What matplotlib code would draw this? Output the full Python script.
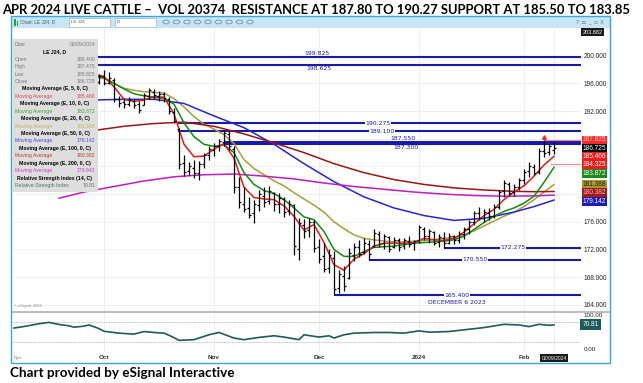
import matplotlib
matplotlib.use('Agg')
import matplotlib.pyplot as plt
import matplotlib.transforms as mtransforms
from matplotlib.collections import LineCollection
from matplotlib.patches import Rectangle, Circle
from matplotlib.lines import Line2D

plt.rcParams['font.family'] = ['Liberation Sans', 'DejaVu Sans']

W, H = 643, 383

# one index per trading day, 0 = Oct 2 2023, 90 = Feb 9 2024
bar_idx = list(range(-1, 91))
opens = [196.2, 197.0, 196.1, 196.5, 193.8, 193.3, 193.0, 193.5, 193.0, 192.9,
         194.2, 194.8, 194.2, 194.4, 193.8, 191.9, 189.4, 184.5, 183.3, 183.8,
         183.0, 184.4, 185.6, 186.4, 186.9, 187.6, 188.7, 186.5, 181.0, 178.6,
         178.0, 177.2, 178.4, 179.8, 179.0, 180.2, 178.6, 179.3, 177.5, 178.4,
         172.0, 175.6, 174.8, 176.0, 172.4, 171.0, 169.3, 170.8, 166.5, 168.2,
         167.9, 171.2, 172.4, 171.6, 172.8, 172.5, 174.2, 172.9, 173.8, 172.4,
         173.3, 172.5, 173.2, 172.9, 173.3, 175.0, 173.9, 174.5, 173.1, 173.6,
         173.0, 173.9, 173.4, 174.2, 174.9, 176.0, 177.2, 176.6, 177.3, 176.9,
         178.2, 180.4, 181.5, 180.3, 181.0, 182.0, 183.3, 183.9, 183.2, 186.2,
         186.1, 186.4]
highs = [197.4, 197.9, 197.6, 196.8, 194.2, 193.9, 194.1, 193.8, 193.4, 194.6,
         195.4, 195.2, 194.9, 194.7, 194.0, 192.5, 189.6, 185.6, 184.6, 185.0,
         184.8, 186.0, 186.9, 187.4, 188.0, 189.3, 189.1, 186.9, 182.5, 181.0,
         179.6, 179.1, 180.6, 181.0, 181.2, 180.3, 180.1, 179.6, 179.2, 178.6,
         176.6, 176.4, 176.5, 176.3, 173.5, 172.9, 172.0, 171.8, 169.0, 169.6,
         172.2, 173.0, 173.3, 173.6, 173.4, 174.9, 174.6, 174.3, 174.0, 173.8,
         173.6, 173.7, 173.9, 173.4, 175.6, 175.2, 175.0, 174.7, 174.2, 174.5,
         174.4, 174.1, 174.7, 175.3, 176.3, 177.6, 178.1, 177.8, 178.0, 178.5,
         180.6, 182.1, 181.8, 181.5, 182.4, 183.6, 184.6, 184.3, 186.7, 187.825,
         187.3, 187.475]
lows = [195.9, 195.7, 195.9, 193.3, 192.6, 192.4, 192.7, 192.5, 191.7, 192.9,
        193.8, 193.8, 193.5, 193.3, 191.6, 190.3, 183.6, 182.6, 182.8, 182.4,
        182.1, 183.8, 185.0, 185.5, 186.2, 187.0, 186.4, 180.2, 178.0, 177.4,
        176.5, 175.8, 177.6, 178.2, 178.6, 177.6, 177.3, 176.7, 177.0, 171.2,
        170.5, 173.6, 173.8, 171.6, 170.0, 168.8, 168.6, 165.4, 165.7, 166.0,
        167.8, 170.3, 170.9, 171.4, 170.55, 172.3, 172.4, 172.0, 171.6, 172.2,
        171.8, 172.0, 172.3, 171.9, 173.0, 173.4, 173.0, 172.6, 172.4, 172.275,
        172.8, 172.8, 173.0, 173.5, 174.2, 175.5, 176.2, 176.0, 176.3, 176.6,
        177.8, 179.6, 179.7, 179.8, 180.6, 181.5, 182.5, 182.8, 182.9, 185.4,
        185.6, 185.825]
closes = [197.0, 196.0, 196.8, 193.8, 193.2, 193.0, 193.6, 192.9, 192.2, 194.3,
          195.0, 194.3, 194.5, 193.9, 192.0, 190.6, 184.3, 183.2, 184.0, 183.0,
          184.4, 185.6, 186.5, 186.9, 187.7, 188.9, 186.9, 181.0, 178.8, 177.9,
          177.0, 178.5, 180.0, 178.9, 180.4, 178.6, 179.5, 177.4, 178.6, 172.5,
          175.8, 174.6, 176.0, 172.2, 170.6, 169.2, 171.2, 166.3, 168.4, 166.7,
          171.5, 172.4, 171.3, 173.0, 171.4, 174.4, 172.8, 173.9, 172.1, 173.4,
          172.4, 173.3, 172.8, 173.2, 175.2, 173.9, 174.6, 173.0, 173.8, 172.9,
          174.0, 173.3, 174.3, 175.0, 176.0, 177.2, 176.6, 177.4, 176.8, 178.2,
          180.3, 181.6, 180.2, 181.0, 182.0, 183.2, 184.0, 183.1, 186.3, 186.0,
          187.0, 186.725]

fast_idx = list(range(-2, 91, 2))
ma5 = [197.3, 197.0, 195.5, 193.7, 193.4, 193.6, 194.1, 194.0, 191.6, 187.2,
       185.4, 185.5, 186.5, 187.3, 185.2, 181.0, 179.5, 179.3, 179.2, 178.3,
       176.8, 174.8, 175.6, 173.0, 169.8, 169.0, 170.6, 171.4, 172.5, 172.9,
       172.9, 172.9, 173.0, 173.6, 173.4, 173.3, 173.6, 174.5, 175.7, 176.9,
       177.8, 179.2, 180.3, 181.2, 182.6, 184.2, 185.466]
ma10 = [197.0, 196.8, 196.0, 195.2, 194.5, 194.2, 194.0, 193.8, 193.0, 190.3,
        188.3, 187.2, 186.9, 187.1, 186.0, 183.1, 181.4, 180.5, 180.1, 179.2,
        178.0, 176.7, 176.3, 174.6, 172.0, 171.0, 171.0, 171.7, 172.3, 172.4,
        172.5, 172.7, 172.9, 173.0, 173.1, 173.2, 173.4, 173.9, 174.9, 175.9,
        176.8, 177.5, 178.0, 178.7, 179.7, 181.7, 183.872]
ma20 = [197.0, 196.7, 196.0, 195.3, 195.0, 194.8, 194.7, 194.6, 193.8, 192.6,
        191.2, 190.1, 189.4, 188.6, 187.3, 185.0, 183.7, 182.8, 181.9, 181.2,
        180.2, 179.3, 178.4, 177.4, 176.0, 175.0, 174.1, 173.6, 173.4, 173.2,
        173.1, 173.1, 173.2, 173.3, 173.4, 173.6, 173.7, 174.1, 174.7, 175.4,
        176.1, 176.8, 177.4, 178.2, 179.2, 180.3, 181.388]
slow_idx = [-2, 4, 10, 16, 22, 28, 34, 40, 46, 52, 58, 64, 70, 76, 82, 86, 90]
ma50 = [193.6, 193.7, 193.7, 193.1, 191.3, 189.6, 187.2, 184.4, 181.8, 179.6,
        178.0, 176.9, 176.2, 176.5, 177.4, 178.2, 179.142]
ma100 = [189.2, 189.8, 190.2, 190.4, 189.8, 188.7, 187.4, 186.0, 184.4, 183.1,
         182.1, 181.4, 180.9, 180.6, 180.4, 180.35, 180.382]
ma200_idx = [-9, -4, 2, 8, 14, 20, 26, 32, 38, 44, 50, 56, 62, 68, 74, 80, 86, 90]
ma200 = [179.4, 180.3, 181.1, 181.9, 182.5, 182.8, 182.9, 182.6, 182.2, 181.6,
         181.1, 180.7, 180.3, 180.0, 179.8, 179.7, 179.75, 179.842]

rsi_idx = [-18, -16, -13, -11, -9, -7, -6, -4, -3, -1, 0, 3, 6, 8, 10, 12, 13.5,
           15, 18, 21, 23, 26, 28, 31, 34, 36, 39, 40, 43, 45, 46, 48, 50, 54,
           57, 60, 63, 65, 69, 73, 76, 80, 83, 85, 87, 89, 90]
rsi = [61.6, 66.0, 74.0, 78.0, 72.0, 68.0, 64.0, 67.0, 70.5, 60.0, 52.0, 46.7,
       43.8, 51.4, 48.6, 46.7, 37.1, 25.7, 27.6, 41.9, 48.6, 32.4, 27.6, 34.3,
       39.0, 35.2, 27.6, 41.9, 35.2, 39.0, 32.4, 41.9, 46.7, 48.6, 48.6, 46.7,
       53.3, 49.5, 51.4, 58.0, 62.9, 72.4, 70.5, 65.7, 72.4, 69.5, 70.81]

month_idx = [0, 22, 43, 63, 84]
month_lbl = ['Oct', 'Nov', 'Dec', '2024', 'Feb']

levels = [199.825, 198.625, 190.275, 189.100, 187.550, 187.300, 172.275, 170.550, 165.400]
level_from = [-19, -19, 14.8, 14.8, 24, 24, 68, 53, 46]

price_ticks = list(range(164, 201, 4))
last_date = '02/09/2024'
top_price = 203.882
mark_low = 184.325

def fx(x):
    return x / W

def fy(y):
    return 1 - y / H

fig = plt.figure(figsize=(W / 100, H / 100), dpi=100)
fig.patch.set_facecolor('white')

XL = (-18.4, 95.4)
ax = fig.add_axes([fx(12), fy(311), 569 / W, 282 / H])
ax2 = fig.add_axes([fx(12), fy(352), 569 / W, 39 / H])

# ---- price panel
ax.set_xlim(*XL)
ax.set_ylim(163.11, 203.86)
for s in ax.spines.values():
    s.set_visible(False)
ax.set_xticks(month_idx + [90])
ax.set_yticks(price_ticks)
ax.grid(True, color='#ececec', lw=0.6)
ax.set_axisbelow(True)
ax.tick_params(axis='x', length=0, labelbottom=False)
ax.yaxis.tick_right()
ax.tick_params(axis='y', length=0, pad=2, labelsize=4.7, labelcolor='#222222')
# the tags on the right cover 180, 184 and 188
ax.set_yticklabels(['' if v in (180, 184, 188) else '%.3f' % v for v in price_ticks])

lvl_col = '#1a1aa8'
for lv, x0 in zip(levels, level_from):
    ax.plot([x0, XL[1]], [lv, lv], color=lvl_col, lw=1.5, solid_capstyle='butt', zorder=3)

ma_lines = [(fast_idx, ma20, '#a99c3e'), (slow_idx, ma50, '#2626cc'),
            (slow_idx, ma100, '#9c1616'), (ma200_idx, ma200, '#c21bc2'),
            (fast_idx, ma10, '#138a13'), (fast_idx, ma5, '#e41a1a')]
for xi, yi, col in ma_lines:
    ax.plot(xi, yi, color=col, lw=1.1, zorder=4)

segs = []
for x, o, h, l, c in zip(bar_idx, opens, highs, lows, closes):
    segs.append([(x, l), (x, h)])
    segs.append([(x - 0.45, o), (x, o)])
    segs.append([(x, c), (x + 0.45, c)])
ax.add_collection(LineCollection(segs, colors='black', linewidths=0.9, zorder=5))

hi_i = highs.index(max(highs[-10:]))
ax.plot([bar_idx[hi_i], XL[1]], [highs[hi_i], highs[hi_i]], color='#ff8c8c', lw=0.8, zorder=4)
ax.plot([89.5, XL[1]], [mark_low, mark_low], color='#ff8c8c', lw=0.8, zorder=4)
ax.plot(bar_idx[hi_i], highs[hi_i] + 0.45, marker='^', color='#ff2020', ms=2.6, zorder=6)

# level labels
lbl_font = dict(fontsize=4.4, color=lvl_col, ha='center', va='center',
                family='DejaVu Sans', zorder=7)
wbox = dict(boxstyle='square,pad=0.1', fc='white', ec='none')
ax.text(42.6, levels[0] + 0.5, '%.3f' % levels[0], **lbl_font)
ax.text(43.0, levels[1] - 0.45, '%.3f' % levels[1], **lbl_font)
ax.text(54.8, levels[2], '%.3f' % levels[2], bbox=wbox, **lbl_font)
ax.text(55.6, levels[3], '%.3f' % levels[3], bbox=wbox, **lbl_font)
ax.text(59.8, levels[4] + 0.45, '%.3f' % levels[4], **lbl_font)
ax.text(60.4, levels[5] - 0.5, '%.3f' % levels[5], **lbl_font)
ax.text(81.8, levels[6], '%.3f' % levels[6], bbox=wbox, **lbl_font)
ax.text(74.2, levels[7], '%.3f' % levels[7], bbox=wbox, **lbl_font)
ax.text(70.6, levels[8], '%.3f' % levels[8], bbox=wbox, **lbl_font)
ax.text(70.6, levels[8] - 1.05, 'DECEMBER 6 2023', **lbl_font)

# right-hand price tags, stacked so they do not cover each other
trans_r = mtransforms.blended_transform_factory(ax.transAxes, ax.transData)
tags = [(max(highs[-10:]), '#ff2a2a', '#ffd0d0'), (closes[-1], 'black', 'white'),
        (ma5[-1], '#f01c1c', 'white'), (mark_low, '#f01c1c', 'white'),
        (ma10[-1], '#1a8a1a', 'white'), (ma20[-1], '#a89a2a', '#202020'),
        (ma100[-1], '#a31a1a', '#ffb0b0'), (ma50[-1], '#1c1cb0', 'white')]
tags.sort(key=lambda t: -t[0])
step = 1.2
prev = None
for v, bg, fg in tags:
    pos = v if prev is None else min(v, prev - step)
    prev = pos
    ax.text(1.0025, pos, '%.3f' % v, transform=trans_r, fontsize=4.7, color=fg,
            ha='left', va='center', clip_on=False, zorder=8,
            bbox=dict(boxstyle='square,pad=0.14', fc=bg, ec='none'))
ax.text(1.0025, top_price - 0.5, '%.3f' % top_price, transform=trans_r, fontsize=4.0,
        color='white', ha='left', va='center', clip_on=False, zorder=8,
        bbox=dict(boxstyle='square,pad=0.25', fc='#1a1a1a', ec='none'))

# ---- RSI panel
ax2.set_xlim(*XL)
ax2.set_ylim(-8.3, 105.4)
for s in ax2.spines.values():
    s.set_visible(False)
ax2.set_xticks(month_idx + [90])
ax2.grid(True, axis='x', color='#ececec', lw=0.6)
for lv in (80, 20):
    ax2.axhline(lv, color='#aaaaaa', lw=0.6, ls=(0, (1, 1)))
ax2.plot(rsi_idx, rsi, color='#1e5b5b', lw=1.2)
ax2.yaxis.tick_right()
ax2.set_yticks([0, 100])
ax2.set_yticklabels(['0.00', '100.00'])
ax2.tick_params(axis='y', length=0, pad=2, labelsize=4.5, labelcolor='#222222')
ax2.tick_params(axis='x', length=0, pad=2.5)
ax2.set_xticklabels(month_lbl + [''], fontsize=4.6, fontweight='bold', color='#333333')
trans_r2 = mtransforms.blended_transform_factory(ax2.transAxes, ax2.transData)
ax2.text(1.0025, rsi[-1], '%.2f' % rsi[-1], transform=trans_r2, fontsize=4.7,
         color='white', ha='left', va='center', clip_on=False,
         bbox=dict(boxstyle='square,pad=0.3', fc='#1d5a5a', ec='none'))
trans_b = mtransforms.blended_transform_factory(ax2.transData, ax2.transAxes)
ax2.text(90, -0.16, last_date, transform=trans_b, fontsize=3.6, color='white',
         ha='center', va='center', clip_on=False,
         bbox=dict(boxstyle='square,pad=0.25', fc='#1a1a1a', ec='none'))

# ---- window chrome
fig.patches.append(Rectangle((fx(11), fy(362.5)), 598.5 / W, 347 / H, transform=fig.transFigure,
                             fc='none', ec='#3aa5de', lw=1.0, zorder=10))
fig.patches.append(Rectangle((fx(11), fy(28)), 598.5 / W, 12.5 / H, transform=fig.transFigure,
                             fc='#c6e6f7', ec='none', zorder=9))
fig.patches.append(Rectangle((fx(14), fy(26)), 1.5 / W, 7 / H, transform=fig.transFigure,
                             fc='#2aa02a', ec='none', zorder=11))
fig.patches.append(Rectangle((fx(16.5), fy(26)), 1.5 / W, 5 / H, transform=fig.transFigure,
                             fc='#2aa02a', ec='none', zorder=11))
fig.text(fx(20), fy(22), 'Chart: LE J24, D', fontsize=3.4, color='#555555', va='center', zorder=11)
for x0, x1, t in [(69, 110, 'LE J24'), (115, 156, 'D')]:
    fig.patches.append(Rectangle((fx(x0), fy(26.5)), (x1 - x0) / W, 9 / H, transform=fig.transFigure,
                                 fc='white', ec='#8aa8b8', lw=0.4, zorder=11))
    fig.text(fx(x0 + 2), fy(22), t, fontsize=3.2, color='#555555', va='center', zorder=12)
for k in range(9):
    fig.patches.append(Circle((fx(166 + k * 10.5), fy(22)), 3.2 / W, transform=fig.transFigure,
                              fc='none', ec='#6a7f8a', lw=0.5, zorder=11))
fig.text(fx(590), fy(22), '?  \u25ad  _  \u25a1  X', fontsize=3.6, color='#666666',
         ha='center', va='center', zorder=11)

# separator between panels
fig.add_artist(Line2D([fx(12), fx(609)], [fy(311.5), fy(311.5)], color='#b0b0b0', lw=1.2, zorder=9))
fig.text(fx(14), fy(306), '\u00a9 eSignal, 2024', fontsize=2.8, color='#888888', va='center', zorder=9)
fig.text(fx(14), fy(357.5), 'Dyn', fontsize=3.2, color='#666666', va='center', zorder=9)

# ---- data window box
fig.patches.append(Rectangle((fx(12), fy(192)), 86 / W, 153 / H, transform=fig.transFigure,
                             fc='#dedede', ec='none', zorder=12))
gray = '#7a7a7a'
rows = [('Date', last_date, gray, None),
        (None, 'LE J24, D', 'black', 'h'),
        ('Open', '%.3f' % opens[-1], gray, None),
        ('High', '%.3f' % highs[-1], gray, None),
        ('Low', '%.3f' % lows[-1], gray, None),
        ('Close', '%.3f' % closes[-1], gray, None),
        (None, 'Moving Average (E, 5, 0, C)', 'black', 'h'),
        ('Moving Average', '%.3f' % ma5[-1], '#e84848', None),
        (None, 'Moving Average (E, 10, 0, C)', 'black', 'h'),
        ('Moving Average', '%.3f' % ma10[-1], '#3aa83a', None),
        (None, 'Moving Average (E, 20, 0, C)', 'black', 'h'),
        ('Moving Average', '%.3f' % ma20[-1], '#c4b45a', None),
        (None, 'Moving Average (E, 50, 0, C)', 'black', 'h'),
        ('Moving Average', '%.3f' % ma50[-1], '#4646d8', None),
        (None, 'Moving Average (E, 100, 0, C)', 'black', 'h'),
        ('Moving Average', '%.3f' % ma100[-1], '#c03838', None),
        (None, 'Moving Average (E, 200, 0, C)', 'black', 'h'),
        ('Moving Average', '%.3f' % ma200[-1], '#cc3ccc', None),
        (None, 'Relative Strength Index (14, C)', 'black', 'h'),
        ('Relative Strength Index', '%.2f' % rsi[-1], '#5a6e6e', None)]
for i, (left, right, col, kind) in enumerate(rows):
    yy = fy(44.3 + 7.43 * i)
    if kind == 'h':
        fig.text(fx(55), yy, right, fontsize=3.7, fontweight='bold', color=col,
                 ha='center', va='center', zorder=13)
    else:
        fig.text(fx(15), yy, left, fontsize=3.7, color=col, ha='left', va='center', zorder=13)
        fig.text(fx(95.5), yy, right, fontsize=3.7, color=col, ha='right', va='center', zorder=13)

# ---- captions
fig.text(fx(2), fy(9.5), 'APR 2024 LIVE CATTLE \u2013  VOL 20374  RESISTANCE AT 187.80 TO 190.27 '
         'SUPPORT AT 185.50 TO 183.85', family='Lato', fontweight='bold', fontsize=9.35,
         color='black', ha='left', va='center')
fig.text(fx(10), fy(373), 'Chart provided by eSignal Interactive', family='Lato',
         fontweight='bold', fontsize=9.7, color='black', ha='left', va='center')

fig.savefig('out.png', dpi=100)
